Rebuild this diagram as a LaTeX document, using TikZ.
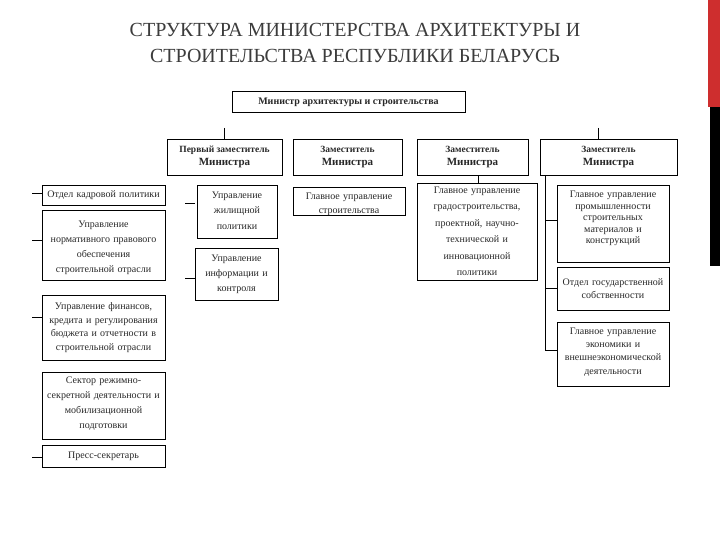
\documentclass[tikz,border=0pt]{standalone}
\usepackage{fontspec}
\setmainfont{Liberation Serif}
\definecolor{txt}{RGB}{40,40,40}
\definecolor{ttl}{RGB}{60,60,60}
\definecolor{barred}{RGB}{206,46,46}
\tikzset{
  box/.style={draw=black, line width=0.8pt, inner sep=0pt},
  boxtext/.style={inner sep=0pt, align=center, text=txt},
  conn/.style={draw=black, line width=0.8pt},
  head/.style={box, align=center, text=txt, font=\bfseries},
}
% name, x1, y1, x2, y2, baselineskip, text shift (down), text
\newcommand{\bx}[8]{%
  \pgfmathsetmacro{\bxw}{#4-#2-4}%
  \node[box, minimum width={(#4-#2)*1pt}, minimum height={(#5-#3)*1pt}]
        (#1) at ({(#2+#4)/2},{(#3+#5)/2}) {};
  \node[boxtext, text width=\bxw pt, font=\fontsize{10}{#6}\selectfont]
        (#1t) at ([shift={(0,#7)}]#1.center) {#8};}
\newcommand{\dep}[6]{%
  \node[head, minimum width={(#4-#2)*1pt}, minimum height={(#5-#3)*1pt}]
        (#1) at ({(#2+#4)/2},{(#3+#5)/2})
        {{\fontsize{9.5}{12}\selectfont #6}\\[1pt]{\fontsize{11}{13}\selectfont Министра}};}
\begin{document}
\begin{tikzpicture}[x=1pt,y=-1pt]
\useasboundingbox (0,0) rectangle (720,540);
\fill[white] (0,0) rectangle (720,540);
% side bars
\fill[barred] (708,0) rectangle (720,107);
\fill[black] (710,107) rectangle (720,266);
% title
\node[text=ttl, align=center, font=\fontsize{20}{26}\selectfont] (title) at (355,43)
  {СТРУКТУРА МИНИСТЕРСТВА АРХИТЕКТУРЫ И\\СТРОИТЕЛЬСТВА РЕСПУБЛИКИ БЕЛАРУСЬ};
% minister
\node[head, minimum width=233pt, minimum height=21pt, text depth=0pt, font=\bfseries\fontsize{10}{12}\selectfont]
  (top) at (348.5,101.5) {Министр архитектуры и строительства};
% deputies
\dep{d1}{167}{139}{282}{175}{Первый заместитель}
\dep{d2}{293}{139}{402}{175}{Заместитель}
\dep{d3}{417}{139}{528}{175}{Заместитель}
\dep{d4}{540}{139}{677}{175}{Заместитель}
% left column
\bx{L1}{42}{185}{165}{205}{12}{0}{Отдел кадровой политики}
\bx{L2}{42}{210}{165}{280}{15}{3}{Управление\\нормативного правового\\обеспечения\\строительной отрасли}
\bx{L3}{42}{295}{165}{360}{13.5}{0}{Управление финансов,\\кредита и регулирования\\бюджета и отчетности в\\строительной отрасли}
\bx{L4}{42}{372}{165}{439}{15}{-2}{Сектор режимно-\\секретной деятельности и\\мобилизационной\\подготовки}
\bx{L5}{42}{445}{165}{467}{12}{0}{Пресс-секретарь}
% middle-left column
\bx{M1}{197}{185}{277}{238}{15.5}{-1}{Управление\\жилищной\\политики}
\bx{M2}{195}{248}{278}{300}{15}{0}{Управление\\информации и\\контроля}
% second deputy
\bx{S1}{293}{187}{405}{215}{14}{3}{Главное управление\\строительства}
% third deputy
\bx{G1}{417}{183}{537}{280}{16.5}{0}{Главное управление\\градостроительства,\\проектной, научно-\\технической и\\инновационной\\политики}
% right column
\bx{R1}{557}{185}{669}{262}{11.5}{-5}{Главное управление\\промышленности\\строительных\\материалов и\\конструкций}
\bx{R2}{557}{267}{669}{310}{13}{0}{Отдел государственной\\собственности}
\bx{R3}{557}{322}{669}{386}{13.3}{-2}{Главное управление\\экономики и\\внешнеэкономической\\деятельности}
% connector stubs
\coordinate (s1) at (224,128);
\coordinate (s4) at (598,128);
\draw[conn] (s1) -- (s1 |- d1.north);
\draw[conn] (s4) -- (s4 |- d4.north);
\coordinate (b3) at (478,0);
\draw[conn] (b3 |- d3.south) -- (b3 |- G1.north);
% right bus
\coordinate (bus) at (545,350);
\coordinate (tR1) at (545,220);
\coordinate (tR2) at (545,288);
\draw[conn] (bus |- d4.south) -- (bus) -- (bus -| R3.west);
\draw[conn] (tR1) -- (tR1 -| R1.west);
\draw[conn] (tR2) -- (tR2 -| R2.west);
% left ticks
\coordinate (tL1) at (32,193);
\coordinate (tL2) at (32,240);
\coordinate (tL3) at (32,317);
\coordinate (tL5) at (32,457);
\draw[conn] (tL1) -- (tL1 -| L1.west);
\draw[conn] (tL2) -- (tL2 -| L2.west);
\draw[conn] (tL3) -- (tL3 -| L3.west);
\draw[conn] (tL5) -- (tL5 -| L5.west);
% middle ticks
\coordinate (tM1) at (185,203);
\coordinate (tM2) at (185,278);
\draw[conn] (tM1) -- +(10,0);
\draw[conn] (tM2) -- (tM2 -| M2.west);
\end{tikzpicture}
\end{document}
